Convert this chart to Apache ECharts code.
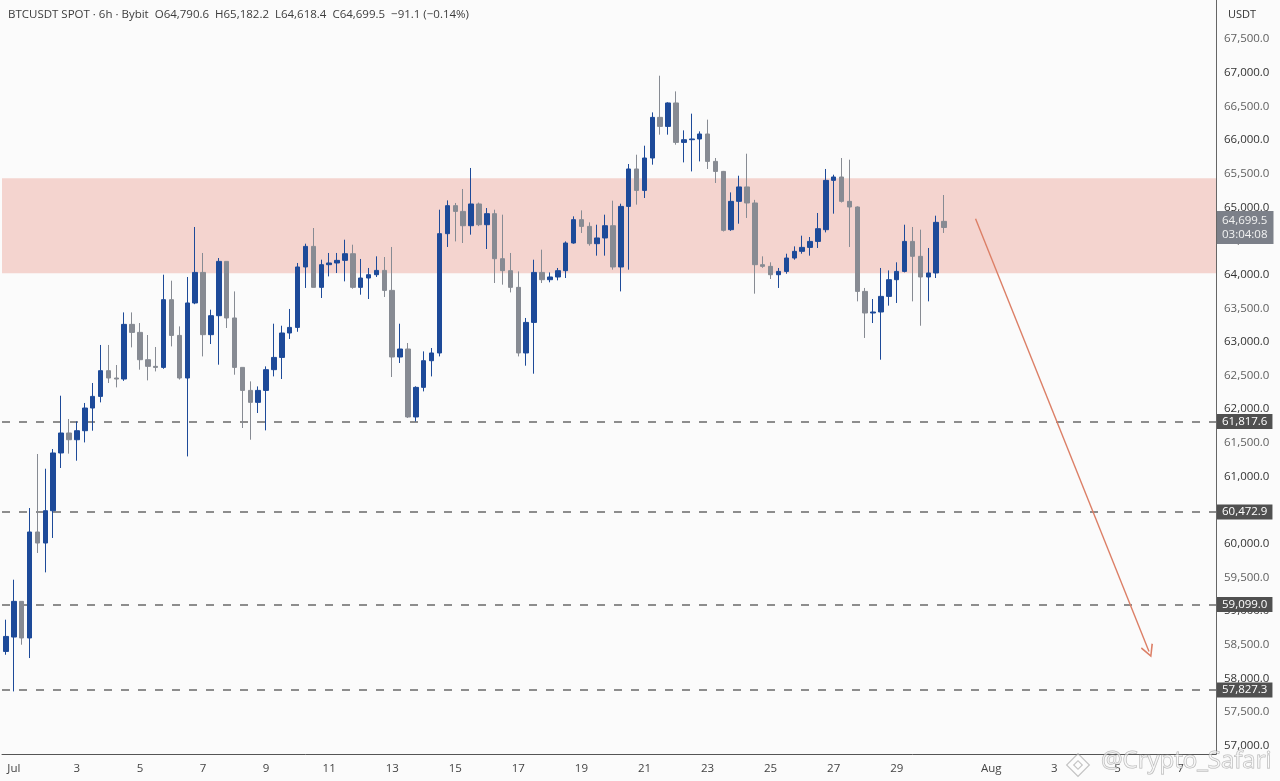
<!DOCTYPE html>
<html>
<head>
<meta charset="utf-8">
<script src="https://cdn.jsdelivr.net/npm/echarts@6/dist/echarts.min.js"></script>
<style>
html,body{margin:0;padding:0;background:#fbfbfb;}
#main{width:1280px;height:781px;}
</style>
</head>
<body>
<div id="main"></div>
<script>
// 6h candles, BTCUSDT spot (Bybit), from 30 Jun 18:00
var opens = [58400,58614,59144,58600,60175,60011,60491,61349,61646,61546,
  61680,62017,62190,62572,62463,62448,63260,63141,62735,62636,
  62621,63627,63096,62463,63578,64032,63107,63389,64196,63355,
  62621,62279,62101,62279,62587,62769,63132,63215,64113,64419,
  63810,64147,64172,64211,64310,63810,63949,63998,64062,63765,
  62775,62894,61884,62324,62720,62835,64608,65024,64939,64726,
  65049,64741,64905,64236,64058,63810,62835,63289,64032,63924,
  63964,64058,64469,64816,64716,64459,64544,64726,64113,65013,
  65569,65251,65732,66336,66202,66550,65964,66004,66015,66089,
  65682,65533,64667,65088,65302,65064,64147,64122,63998,64047,
  64246,64345,64404,64493,64667,65400,65450,65088,65004,63750,
  63429,63444,63676,63924,64047,64493,64271,63964,64024,64790.6];
var closes = [58623,59144,58600,60175,60011,60491,61349,61646,61546,61680,
  62017,62190,62572,62463,62448,63260,63141,62735,62636,62621,
  63627,63096,62463,63578,64032,63107,63389,64196,63355,62621,
  62279,62101,62279,62587,62769,63132,63215,64113,64419,63810,
  64147,64172,64211,64310,63810,63949,63998,64062,63765,62775,
  62894,61884,62324,62720,62835,64608,65024,64939,64726,65049,
  64741,64905,64236,64058,63810,62835,63289,64032,63924,63964,
  64058,64469,64816,64716,64459,64544,64726,64113,65013,65569,
  65251,65732,66336,66202,66550,65964,66004,66015,66089,65682,
  65533,64657,65088,65302,65064,64147,64122,63998,64047,64246,
  64345,64404,64493,64682,65400,65450,65088,65004,63750,63429,
  63444,63676,63924,64047,64493,64271,63964,64024,64776,64699.5];
var lows = [58351,57806,58500,58302,59863,59575,60086,61126,61339,61234,
  61506,61680,62101,62389,62324,62420,62918,62587,62428,62561,
  62600,62933,62440,61298,63560,62784,62968,62661,63206,62512,
  61720,61546,61943,61685,62487,62448,63043,63150,63801,63810,
  63652,63973,64023,63899,63790,63701,63637,63964,63667,62478,
  62686,61869,61818,62264,62487,62784,64410,64493,64469,64593,
  64720,64380,63875,63850,63735,62784,62646,62527,63875,63885,
  63914,63949,64459,64618,64429,64281,64281,64073,63750,64073,
  65039,65138,65633,66079,66079,65930,65667,65533,65682,65569,
  65361,64640,64650,64756,64841,63716,64100,63934,63801,64013,
  64221,64310,64281,64395,64627,64905,65070,64410,63602,63058,
  63280,62735,63538,63578,64032,63602,63240,63602,63949,64618.4];
var highs = [58872,59466,59144,60531,61334,61115,61408,62200,61854,61818,
  62092,62389,62954,62954,62656,63438,63438,63280,63102,62924,
  63998,63909,63230,63964,64707,64321,63478,64246,64196,63750,
  62621,62413,62338,62636,63270,63240,63489,64172,64459,64692,
  64221,64321,64321,64518,64444,64232,64098,64271,64261,64410,
  63270,62983,62340,62859,62909,64964,65102,65064,65272,65584,
  65070,64989,64964,64890,64321,64047,63355,64221,64370,64032,
  64098,64493,64865,64954,64776,64741,64890,65098,65053,65643,
  65781,65915,66410,66955,66560,66722,66143,66391,66128,66302,
  65732,65540,65221,65469,65796,65110,64271,64182,64098,64310,
  64419,64578,64558,64915,65569,65484,65732,65707,65013,63801,
  63637,64098,64062,64182,64741,64707,64667,64395,64875,65182.2];

var levels = [61817.6, 60472.9, 59099.0, 57827.3];
var zone = [64020, 65430];
var lastPrice = 64699.5;
var countdown = '03:04:08';
var arrowFrom = [123, 64830];
var arrowTo = [145, 58400];

var tickDays = ['07-01','07-03','07-05','07-07','07-09','07-11','07-13','07-15','07-17',
  '07-19','07-21','07-23','07-25','07-27','07-29','08-01','08-03','08-05','08-07'];
var tickLabels = ['Jul','3','5','7','9','11','13','15','17',
  '19','21','23','25','27','29','Aug','3','5','7'];

// time slots of the axis (6h each), a bit past the last candle
var categories = [];
var t0 = Date.UTC(2024, 5, 30, 18);
for (var i = 0; i < 154; i++) {
  var d = new Date(t0 + i * 6 * 3600 * 1000);
  var mm = ('0' + (d.getUTCMonth() + 1)).slice(-2);
  var dd = ('0' + d.getUTCDate()).slice(-2);
  var hh = ('0' + d.getUTCHours()).slice(-2);
  categories.push(mm + '-' + dd + ' ' + hh + ':00');
}
var tickMap = {};
tickDays.forEach(function (d, k) { tickMap[d + ' 00:00'] = tickLabels[k]; });

var candles = opens.map(function (o, k) { return [o, closes[k], lows[k], highs[k]]; });

function fmt(v) {
  return v.toLocaleString('en-US', {minimumFractionDigits: 1, maximumFractionDigits: 1});
}

var font = '"Open Sans", "Noto Sans", sans-serif';
var blue = '#1d4a99', gray = '#878b93';
var arrowColor = '#dc7f66';

var chart = echarts.init(document.getElementById('main'));
var levelLines = levels.map(function (v) {
  return {
    yAxis: v,
    lineStyle: {color: '#6a6a6a', type: [8, 9], width: 1.5},
    label: {
      show: true, position: 'end', distance: 1, formatter: fmt(v),
      color: '#fff', backgroundColor: '#505050', padding: [2, 5, 1, 5],
      fontSize: 11.5, fontFamily: font
    }
  };
});
// last price tag on the axis
levelLines.push({
  yAxis: lastPrice,
  lineStyle: {color: 'rgba(0,0,0,0)', width: 1},
  label: {
    show: true, position: 'end', distance: 1,
    formatter: fmt(lastPrice) + '\n' + countdown,
    color: '#f2f2f2', backgroundColor: '#7c8089', padding: [3, 6, 2, 5],
    fontSize: 11.5, lineHeight: 14, fontFamily: font
  }
});
// down arrow
levelLines.push([
  {coord: arrowFrom, symbol: 'none', lineStyle: {color: arrowColor, type: 'solid', width: 1.4}},
  {coord: arrowTo, symbol: 'path://M0,10 L5,0 L10,10 L9,10.9 L5,2.6 L1,10.9 Z', symbolSize: [13, 13],
    lineStyle: {color: arrowColor, type: 'solid', width: 1.4}}
]);

option = {
  backgroundColor: '#fbfbfb',
  animation: false,
  grid: {left: 2, right: 64, top: 0, bottom: 27},
  xAxis: {
    type: 'category',
    data: categories,
    boundaryGap: true,
    axisLine: {lineStyle: {color: '#555', width: 1}},
    axisTick: {show: false},
    splitLine: {show: false},
    axisLabel: {
      interval: function (idx, val) { return tickMap[val] !== undefined; },
      formatter: function (val) { return tickMap[val] || ''; },
      color: '#444', fontSize: 11.5, fontFamily: font, margin: 9
    }
  },
  yAxis: {
    type: 'value',
    position: 'right',
    min: 56876,
    max: 68080,
    splitNumber: 22,
    minInterval: 500,
    maxInterval: 500,
    scale: true,
    axisLine: {show: true, lineStyle: {color: '#666', width: 1}},
    axisTick: {show: false},
    splitLine: {show: false},
    axisLabel: {
      showMinLabel: false, showMaxLabel: false,
      margin: 8, fontSize: 11.5, fontFamily: font,
      color: function (v) { return v % 1000 === 0 ? '#333' : '#5f5f5f'; },
      formatter: function (v) {
        if (v % 500 !== 0 || v > 67600) return '';
        return fmt(v);
      }
    }
  },
  graphic: [
    {type: 'text', left: 8, top: 9, z: 10,
      style: {text: 'BTCUSDT SPOT · 6h · Bybit  O64,790.6  H65,182.2  L64,618.4  C64,699.5  −91.1 (−0.14%)',
        fill: '#3d3d3d', font: '11.5px ' + font}},
    {type: 'text', left: 1228, top: 9, z: 10,
      style: {text: 'USDT', fill: '#333', font: '11px ' + font}},
    {type: 'rect', x: 1078, y: 765, rotation: Math.PI / 4, z: 20,
      shape: {x: -8, y: -8, width: 16, height: 16},
      style: {fill: 'rgba(255,255,255,0.5)', stroke: 'rgba(150,150,150,0.55)', lineWidth: 1.2}},
    {type: 'rect', x: 1078, y: 765, rotation: Math.PI / 4, z: 21,
      shape: {x: -3, y: -3, width: 6, height: 6},
      style: {fill: 'rgba(255,255,255,0.5)', stroke: 'rgba(150,150,150,0.55)', lineWidth: 1.2}},
    {type: 'text', right: 8, top: 749, z: 20,
      style: {text: '@Crypto_Safari', fill: 'rgba(255,255,255,0.55)',
        stroke: 'rgba(135,135,135,0.6)', lineWidth: 1, font: '24px ' + font}}
  ],
  series: [
    {
      type: 'line',
      data: [],
      z: 1,
      silent: true,
      markArea: {
        silent: true,
        itemStyle: {color: '#f4d4cf'},
        data: [[{yAxis: zone[0]}, {yAxis: zone[1]}]]
      }
    },
    {
      type: 'candlestick',
      data: candles,
      z: 5,
      barWidth: 5,
      itemStyle: {
        color: blue, color0: gray,
        borderColor: blue, borderColor0: gray,
        borderWidth: 1
      },
      markLine: {
        silent: true,
        symbol: 'none',
        animation: false,
        data: levelLines
      }
    }
  ]
};
chart.setOption(option);
</script>
</body>
</html>
